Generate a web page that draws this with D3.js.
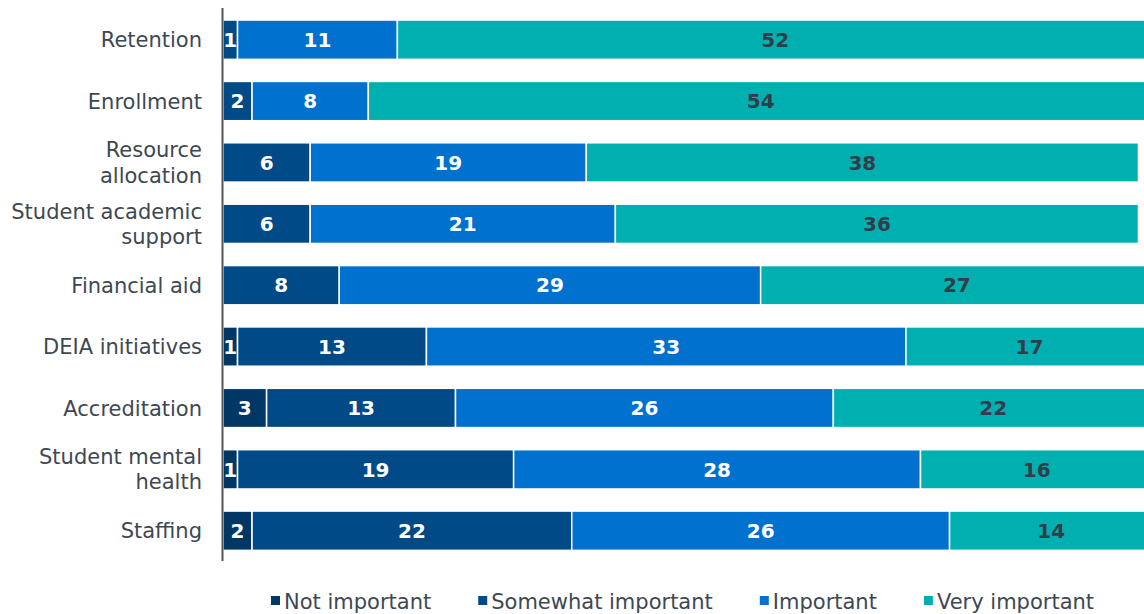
<!DOCTYPE html>
<html>
<head>
<meta charset="utf-8">
<script src="https://cdn.jsdelivr.net/npm/d3@7"></script>
<style>
  body { margin: 0; background: #fff; }
  svg { display: block; font-family: Verdana, "DejaVu Sans", sans-serif; }
</style>
</head>
<body>
<div id="chart"></div>
<script>
// categories, top to bottom
const categories = ["Retention", "Enrollment", "Resource allocation", "Student academic support",
  "Financial aid", "DEIA initiatives", "Accreditation", "Student mental health", "Staffing"];

// wrapped label lines
const labelLines = [["Retention"], ["Enrollment"], ["Resource", "allocation"], ["Student academic", "support"],
  ["Financial aid"], ["DEIA initiatives"], ["Accreditation"], ["Student mental", "health"], ["Staffing"]];

const seriesNames = ["Not important", "Somewhat important", "Important", "Very important"];
const notImportant      = [0, 0, 0, 0, 0, 1, 3, 1, 2];
const somewhatImportant = [1, 2, 6, 6, 8, 13, 13, 19, 22];
const important         = [11, 8, 19, 21, 29, 33, 26, 28, 26];
const veryImportant     = [52, 54, 38, 36, 27, 17, 22, 16, 14];

const colors = ["#003764", "#004a87", "#0071ce", "#00b0b0"];
const labelColors = ["#fff", "#fff", "#fff", "#333c4a"];

const width = 1144, height = 614;
const svg = d3.select("#chart").append("svg")
  .attr("width", width)
  .attr("height", height);

const data = categories.map((c, i) => ({
  cat: c,
  lines: labelLines[i],
  "Not important": notImportant[i],
  "Somewhat important": somewhatImportant[i],
  "Important": important[i],
  "Very important": veryImportant[i]
}));

const stacked = d3.stack().keys(seriesNames)(data);

// x axis runs past the right edge of the picture
const x = d3.scaleLinear().domain([0, 64]).range([223, 1153]);
const y = d3.scaleBand()
  .domain(categories)
  .range([9, 561.4])
  .paddingInner(0.36)
  .paddingOuter(0.18);

// bars
const layers = svg.selectAll("g.layer")
  .data(stacked)
  .join("g")
  .attr("class", "layer")
  .attr("fill", (d, i) => colors[i]);

layers.selectAll("rect")
  .data(d => d.filter(s => s[1] - s[0] > 0))
  .join("rect")
  .attr("x", d => x(d[0]))
  .attr("y", d => y(d.data.cat))
  .attr("width", d => x(d[1]) - x(d[0]))
  .attr("height", y.bandwidth())
  .attr("stroke", "#fff")
  .attr("stroke-width", 1.5);

// value labels
stacked.forEach((layer, i) => {
  svg.append("g")
    .selectAll("text")
    .data(layer.filter(s => s[1] - s[0] > 0))
    .join("text")
    .attr("x", d => (x(d[0]) + x(d[1])) / 2)
    .attr("y", d => y(d.data.cat) + y.bandwidth() / 2)
    .attr("dy", "0.36em")
    .attr("text-anchor", "middle")
    .attr("font-size", 20)
    .attr("font-weight", "bold")
    .attr("fill", labelColors[i])
    .text(d => d[1] - d[0]);
});

// category labels
const lab = svg.append("g")
  .selectAll("text")
  .data(data)
  .join("text")
  .attr("text-anchor", "end")
  .attr("font-size", 21)
  .attr("fill", "#3d4852")
  .attr("y", d => y(d.cat) + y.bandwidth() / 2);

lab.selectAll("tspan")
  .data(d => d.lines.map((l, j) => ({ l, j, n: d.lines.length })))
  .join("tspan")
  .attr("x", 202)
  .attr("dy", d => d.j === 0 ? ((0.36 - (d.n - 1) * 0.6) + "em") : "1.2em")
  .text(d => d.l);

// y axis line
svg.append("line")
  .attr("x1", 222.5).attr("x2", 222.5)
  .attr("y1", 8).attr("y2", 561)
  .attr("stroke", "#555")
  .attr("stroke-width", 2);

// legend
const legend = svg.append("g").attr("transform", "translate(271,601)");
let lx = 0;
seriesNames.forEach((name, i) => {
  const g = legend.append("g").attr("transform", `translate(${lx},0)`);
  g.append("rect")
    .attr("x", 0).attr("y", -5)
    .attr("width", 9).attr("height", 9)
    .attr("fill", colors[i]);
  const t = g.append("text")
    .attr("x", 13)
    .attr("dy", "0.36em")
    .attr("font-size", 21)
    .attr("fill", "#3d4852")
    .text(name);
  lx += 13 + t.node().getComputedTextLength() + 47;
});
</script>
</body>
</html>
